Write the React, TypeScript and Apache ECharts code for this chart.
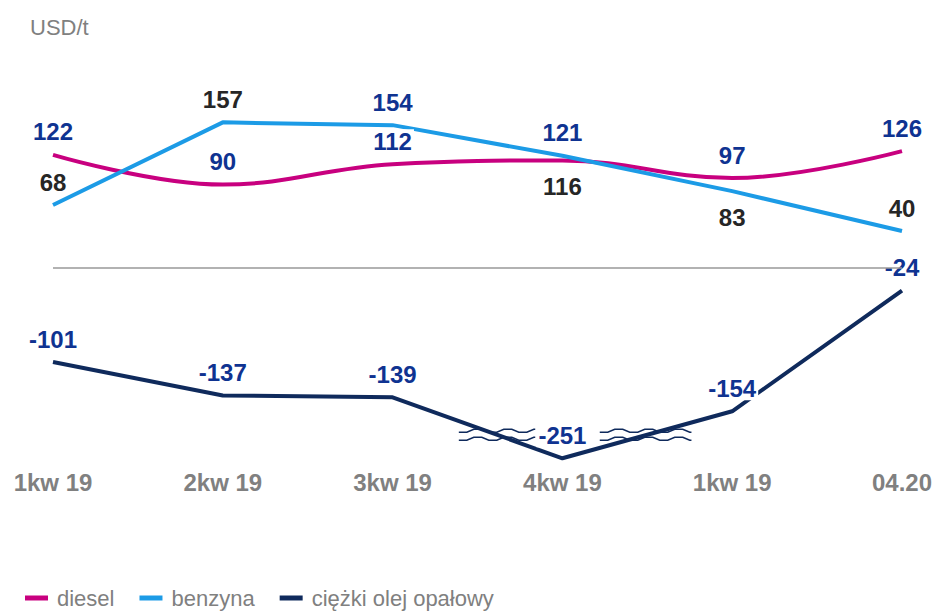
import React, { useEffect, useRef } from 'react';
import * as echarts from 'echarts';

const categories = ['1kw 19', '2kw 19', '3kw 19', '4kw 19', '1kw 19', '04.20'];
const dieselValues = [122, 90, 112, 116, 97, 126];
const benzynaValues = [68, 157, 154, 121, 83, 40];
const fuelOilValues = [-101, -137, -139, -251, -154, -24];
const seriesNames = ['diesel', 'benzyna', 'ciężki olej opałowy'];
const unitLabel = 'USD/t';

// label tone per point ('b' blue, 'k' black) and placement
const dieselLabelTone = ['b', 'b', 'b', 'k', 'b', 'b'];
const dieselLabelPos = ['top', 'top', 'top', 'bottom', 'top', 'top'];
const benzynaLabelTone = ['k', 'k', 'b', 'b', 'k', 'k'];
const benzynaLabelPos = ['top', 'top', 'top', 'top', 'bottom', 'top'];
const fuelLabelTone = ['b', 'b', 'b', 'b', 'b', 'b'];
const fuelLabelPos = ['top', 'top', 'top', 'top', 'top', 'top'];

const axisBreakStart = -230;
const axisBreakEnd = -175;

const FONT = '"Liberation Sans", Arial, sans-serif';
const BLUE = '#0f3391';
const BLACK = '#262626';
const GREY = '#808080';
const C_DIESEL = '#c8007f';
const C_BENZ = '#1c9be6';
const C_FUEL = '#0f2a5c';

function buildData(values: number[], tones: string[], pos: string[]) {
  return values.map((v, i) => ({
    value: v,
    label: {
      color: tones[i] === 'b' ? BLUE : BLACK,
      position: pos[i],
      distance: pos[i] === 'top' ? 11 : 14,
    },
  }));
}

const baseLabel = {
  show: true,
  fontSize: 24,
  lineHeight: 24,
  fontWeight: 'bold',
  fontFamily: FONT,
  backgroundColor: '#ffffff',
  padding: [0, 2],
  formatter: '{c}',
};

function zigzag(x0: number, x1: number, y: number) {
  const pts: number[][] = [];
  const amp = 3;
  let x = x0;
  let phase = 0;
  pts.push([x, y]);
  const steps = [8, 7, 8, 7];
  while (x < x1) {
    const s = steps[phase % 4];
    x = Math.min(x + s, x1);
    const p = phase % 4;
    const yy = p === 0 ? y : p === 1 ? y - amp : p === 2 ? y - amp : y;
    pts.push([x, yy]);
    phase++;
  }
  return pts;
}

export default function App() {
  const ref = useRef<HTMLDivElement>(null);
  useEffect(() => {
    document.body.style.margin = '0';
    const chart = echarts.init(ref.current!, null, { renderer: 'svg' });
    const option: any = {
      animation: false,
      title: {
        text: unitLabel,
        left: 25,
        top: 11,
        textStyle: { color: GREY, fontSize: 22, fontWeight: 'normal', fontFamily: FONT },
      },
      legend: {
        data: seriesNames,
        icon: 'rect',
        itemWidth: 23,
        itemHeight: 5,
        itemGap: 25,
        left: 20,
        top: 581,
        textStyle: { color: GREY, fontSize: 22, lineHeight: 24, fontFamily: FONT, padding: [0, 0, 0, 4] },
        selectedMode: false,
      },
      grid: { left: 53, right: 35, top: 101, bottom: 149 },
      xAxis: {
        type: 'category',
        data: categories,
        boundaryGap: false,
        axisLine: { show: false },
        axisTick: { show: false },
        axisLabel: {
          color: GREY,
          fontSize: 24,
          fontWeight: 'bold',
          fontFamily: FONT,
          margin: 8,
          interval: 0,
        },
        splitLine: { show: false },
      },
      yAxis: {
        type: 'value',
        min: -255,
        max: 180,
        breaks: [{ start: axisBreakStart, end: axisBreakEnd, gap: 8.6 }],
        breakArea: { show: false },
        axisLine: { show: false },
        axisTick: { show: false },
        axisLabel: { show: false },
        splitLine: { show: false },
      },
      series: [
        {
          name: seriesNames[0],
          type: 'line',
          color: C_DIESEL,
          smooth: 0.4,
          symbol: 'circle',
          symbolSize: 0,
          lineStyle: { color: C_DIESEL, width: 4 },
          label: baseLabel,
          silent: true,
          data: buildData(dieselValues, dieselLabelTone, dieselLabelPos),
        },
        {
          name: seriesNames[1],
          type: 'line',
          color: C_BENZ,
          symbol: 'circle',
          symbolSize: 0,
          lineStyle: { color: C_BENZ, width: 4 },
          label: baseLabel,
          silent: true,
          data: buildData(benzynaValues, benzynaLabelTone, benzynaLabelPos),
        },
        {
          name: seriesNames[2],
          type: 'line',
          color: C_FUEL,
          symbol: 'circle',
          symbolSize: 0,
          lineStyle: { color: C_FUEL, width: 4 },
          label: baseLabel,
          silent: true,
          data: buildData(fuelOilValues, fuelLabelTone, fuelLabelPos),
          markLine: {
            silent: true,
            symbol: ['none', 'none'],
            label: { show: false },
            lineStyle: { color: '#999999', width: 1.5, type: 'solid' },
            data: [{ yAxis: 0 }],
          },
        },
      ],
    };
    chart.setOption(option);

    const yUp = chart.convertToPixel({ yAxisIndex: 0 }, axisBreakEnd) as number;
    const yLo = chart.convertToPixel({ yAxisIndex: 0 }, axisBreakStart) as number;
    const x3 = chart.convertToPixel({ xAxisIndex: 0 }, 2) as number;
    const x4 = chart.convertToPixel({ xAxisIndex: 0 }, 3) as number;
    const x5 = chart.convertToPixel({ xAxisIndex: 0 }, 4) as number;
    const spans = [
      [x3 + 0.39 * (x4 - x3), x3 + 0.84 * (x4 - x3)],
      [x4 + 0.22 * (x5 - x4), x4 + 0.76 * (x5 - x4)],
    ];
    const elements: any[] = [];
    spans.forEach(([a, b]) => {
      [yUp, yLo].forEach((y) => {
        if (isFinite(y)) {
          elements.push({
            type: 'polyline',
            z: 1,
            silent: true,
            shape: { points: zigzag(a, b, y + 1.5) },
            style: { stroke: C_FUEL, lineWidth: 1.5, fill: null },
          });
        }
      });
    });
    chart.setOption({ graphic: { elements } });
    return () => chart.dispose();
  }, []);
  return <div ref={ref} style={{ width: 937, height: 611 }} />;
}
